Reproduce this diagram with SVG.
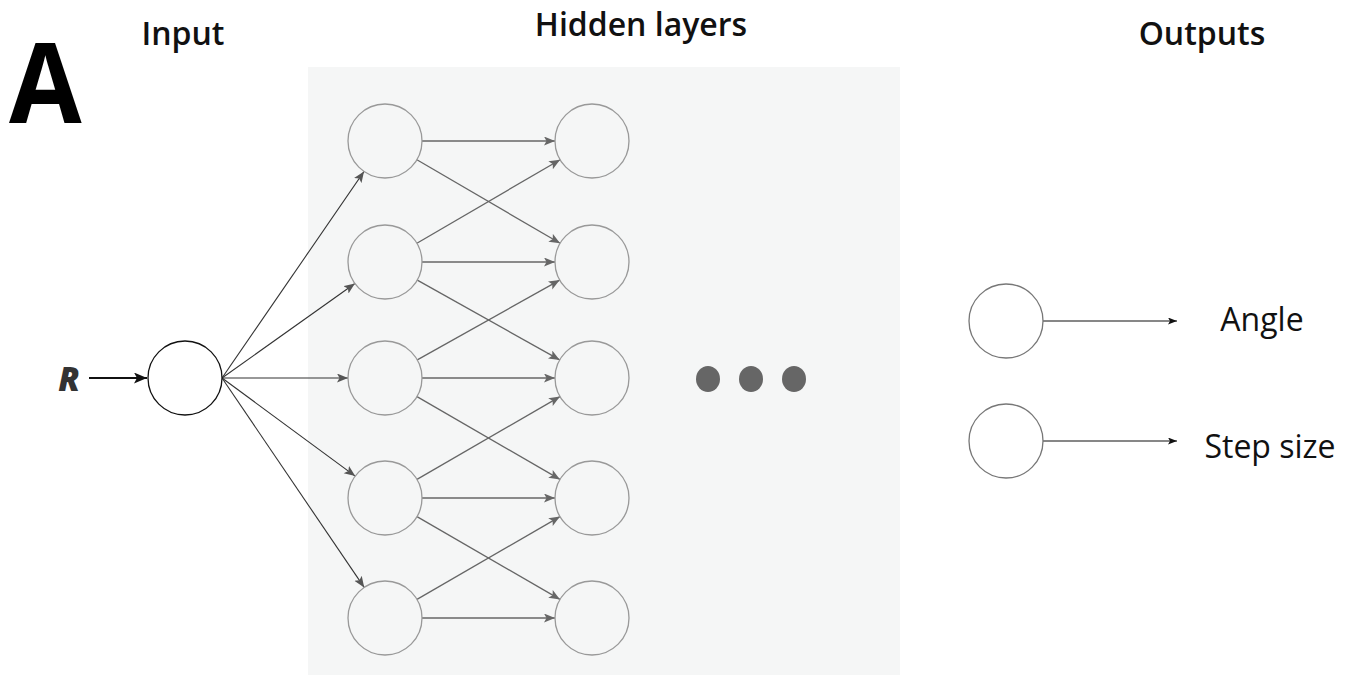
<svg xmlns="http://www.w3.org/2000/svg" width="1353" height="675" viewBox="0 0 1353 675">
<style>
.title{font-family:"Open Sans","Liberation Sans",sans-serif;font-weight:600;font-size:32px;fill:#111}
.lbl{font-family:"Open Sans","Liberation Sans",sans-serif;font-size:32px;fill:#111}
.hid{fill:none;stroke:#999;stroke-width:1.3}
.io{fill:#fff;stroke:#111;stroke-width:1.3}
.out{fill:#fff;stroke:#777;stroke-width:1.3}
.e1{stroke:#333;stroke-width:1.1;fill:none;marker-end:url(#ah)}
.e2{stroke:#666;stroke-width:1.3;fill:none;marker-end:url(#ahg)}
.eo{stroke:#111;stroke-width:1.1;fill:none;marker-end:url(#ahs)}
</style>
<defs>
<marker id="ah" markerUnits="userSpaceOnUse" markerWidth="12" markerHeight="10" refX="11" refY="4.5" orient="auto"><path d="M0,0 L11,4.5 L0,9 L2.5,4.5 z" fill="#555"/></marker>
<marker id="ahg" markerUnits="userSpaceOnUse" markerWidth="12" markerHeight="10" refX="11" refY="4.5" orient="auto"><path d="M0,0 L11,4.5 L0,9 L2.5,4.5 z" fill="#666"/></marker>
<marker id="ahs" markerUnits="userSpaceOnUse" markerWidth="10" markerHeight="8" refX="9" refY="3.5" orient="auto"><path d="M0,0 L9,3.5 L0,7 L2,3.5 z" fill="#111"/></marker>
<marker id="ahR" markerUnits="userSpaceOnUse" markerWidth="14" markerHeight="12" refX="13" refY="5.5" orient="auto"><path d="M0,0 L13,5.5 L0,11 L3,5.5 z" fill="#111"/></marker>
</defs>
<rect x="308" y="67" width="592" height="608" fill="#f5f6f6"/>
<text transform="translate(9,123) scale(0.94,1)" x="0" y="0" font-family="'Open Sans','Liberation Sans',sans-serif" font-weight="700" font-size="112" fill="#000">A</text>
<text class="title" x="183" y="45" text-anchor="middle">Input</text>
<text class="title" x="641" y="36" text-anchor="middle">Hidden layers</text>
<text class="title" x="1202" y="45" text-anchor="middle">Outputs</text>
<g id="connectors">
<line x1="89" y1="378" x2="147" y2="378" stroke="#111" stroke-width="2" marker-end="url(#ahR)"/>
<line class="e1" x1="222" y1="378" x2="364" y2="171.5"/>
<line class="e1" x1="222" y1="378" x2="354.9" y2="283.5"/>
<line class="e1" x1="222" y1="378" x2="348" y2="378"/>
<line class="e1" x1="222" y1="378" x2="355.2" y2="476.1"/>
<line class="e1" x1="222" y1="378" x2="364.2" y2="587.4"/>
<line class="e2" x1="422" y1="141" x2="555" y2="141"/>
<line class="e2" x1="422" y1="262" x2="555" y2="262"/>
<line class="e2" x1="422" y1="378" x2="555" y2="378"/>
<line class="e2" x1="422" y1="498" x2="555" y2="498"/>
<line class="e2" x1="422" y1="618" x2="555" y2="618"/>
<line class="e2" x1="416.9" y1="159.7" x2="560.1" y2="243.3"/>
<line class="e2" x1="416.9" y1="243.3" x2="560.1" y2="159.7"/>
<line class="e2" x1="417.3" y1="280.1" x2="559.7" y2="359.9"/>
<line class="e2" x1="417.3" y1="359.9" x2="559.7" y2="280.1"/>
<line class="e2" x1="417" y1="396.6" x2="560" y2="479.4"/>
<line class="e2" x1="417" y1="479.4" x2="560" y2="396.6"/>
<line class="e2" x1="417" y1="516.6" x2="560" y2="599.4"/>
<line class="e2" x1="417" y1="599.4" x2="560" y2="516.6"/>
<line class="eo" x1="1043" y1="321" x2="1177" y2="321"/>
<line class="eo" x1="1043" y1="441" x2="1177" y2="441"/>
</g>
<g id="R"><text x="69" y="391" text-anchor="middle" font-family="'Open Sans','Liberation Sans',sans-serif" font-weight="800" font-style="italic" font-size="33" fill="#333">R</text></g>
<g id="input"><circle class="io" cx="185" cy="378" r="37"/></g>
<g id="h1a"><circle class="hid" cx="385" cy="141" r="37"/></g>
<g id="h1b"><circle class="hid" cx="385" cy="262" r="37"/></g>
<g id="h1c"><circle class="hid" cx="385" cy="378" r="37"/></g>
<g id="h1d"><circle class="hid" cx="385" cy="498" r="37"/></g>
<g id="h1e"><circle class="hid" cx="385" cy="618" r="37"/></g>
<g id="h2a"><circle class="hid" cx="592" cy="141" r="37"/></g>
<g id="h2b"><circle class="hid" cx="592" cy="262" r="37"/></g>
<g id="h2c"><circle class="hid" cx="592" cy="378" r="37"/></g>
<g id="h2d"><circle class="hid" cx="592" cy="498" r="37"/></g>
<g id="h2e"><circle class="hid" cx="592" cy="618" r="37"/></g>
<g id="dots" fill="#666">
<ellipse cx="708" cy="379" rx="12" ry="13"/>
<ellipse cx="751" cy="379" rx="12" ry="13"/>
<ellipse cx="794" cy="379" rx="12" ry="13"/>
</g>
<g id="out1"><circle class="out" cx="1006" cy="321" r="37"/></g>
<g id="out2"><circle class="out" cx="1006" cy="441" r="37"/></g>
<text class="lbl" x="1262" y="331" text-anchor="middle">Angle</text>
<text class="lbl" x="1270" y="458" text-anchor="middle">Step size</text>
</svg>
